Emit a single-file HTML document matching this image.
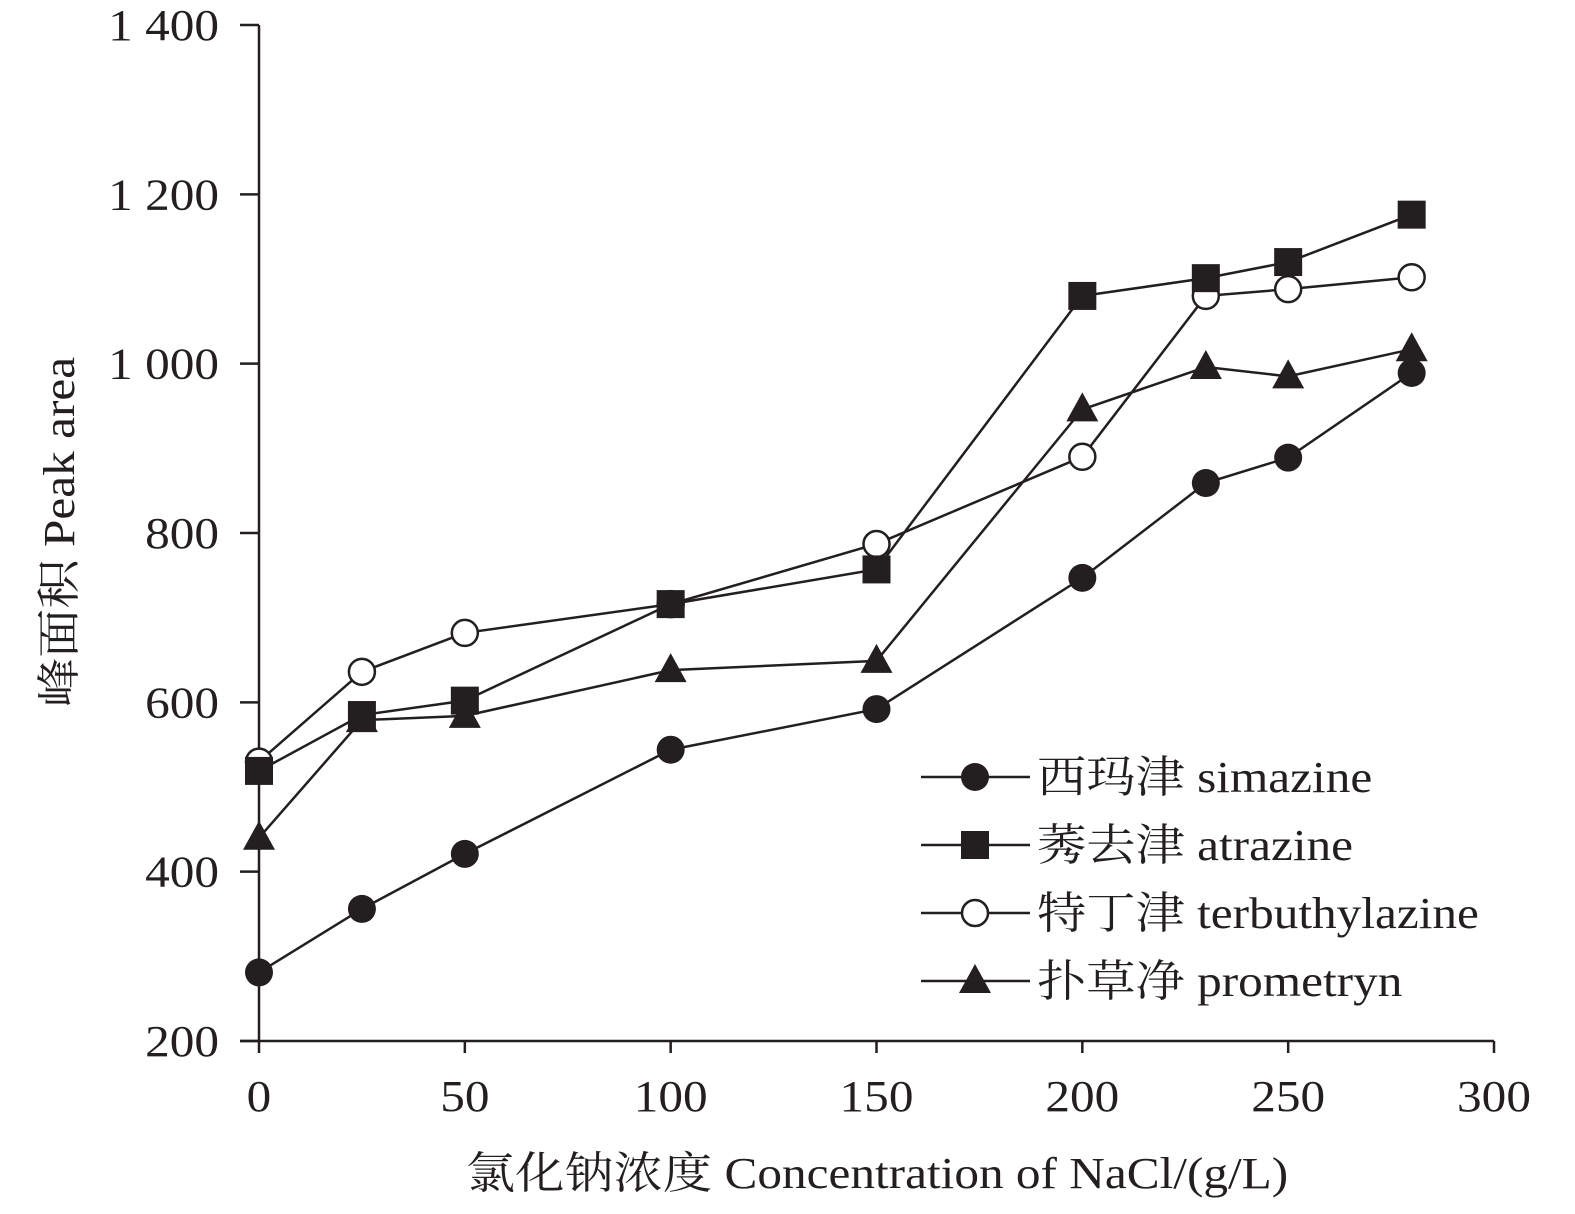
<!DOCTYPE html>
<html><head><meta charset="utf-8"><style>
html,body{margin:0;padding:0;background:#fff;}
svg text{font-family:"Liberation Serif","Noto Serif CJK SC",serif;fill:#231f20;}
</style></head><body>
<svg id="chart" width="1575" height="1209" viewBox="0 0 1575 1209" xmlns="http://www.w3.org/2000/svg">
<g id="axes"></g>
<g id="series"></g>
<g id="legend"></g>
<text transform="translate(74,532) rotate(-90) scale(1.12,1)" x="0" y="0" text-anchor="middle" font-size="44">峰面积 Peak area</text>
<text transform="translate(877,1188) scale(1.12,1)" x="0" y="0" text-anchor="middle" font-size="44">氯化钠浓度 Concentration of NaCl/(g/L)</text>
</svg>
<script>
const xValues=[0,25,50,100,150,200,230,250,280];
const simazine=[281,356,421,544,592,747,859,889,989];
const atrazine=[519,585,602,716,757,1080,1101,1120,1176];
const terbuthylazine=[530,636,682,716,787,890,1080,1088,1102];
const prometryn=[440,579,584,638,649,946,996,985,1017];
const xTicks=[0,50,100,150,200,250,300];
const yTicks=[200,400,600,800,1000,1200,1400];
const yTickLabels=["200","400","600","800","1 000","1 200","1 400"];
const seriesNames=["西玛津 simazine","莠去津 atrazine","特丁津 terbuthylazine","扑草净 prometryn"];

const NS="http://www.w3.org/2000/svg";
const X0=259,X1=1494,Y0=1041,Y1=25;
function xs(v){return X0+(v-0)/(300-0)*(X1-X0);}
function ys(v){return Y0-(v-200)/(1400-200)*(Y0-Y1);}
function mk(tag,attrs,parent){const e=document.createElementNS(NS,tag);for(const k in attrs)e.setAttribute(k,attrs[k]);parent.appendChild(e);return e;}
const axes=document.getElementById('axes');
let a=mk('line',{x1:X0,y1:Y1,x2:X0,y2:Y0,stroke:'#231f20','stroke-width':2.5},axes);


a=mk('line',{x1:X0-19,y1:Y0,x2:X1,y2:Y0,stroke:'#231f20','stroke-width':2.5},axes);


yTicks.forEach((t,i)=>{
  const y=ys(t);
  const l=mk('line',{x1:X0-19,y1:y,x2:X0,y2:y,stroke:'#231f20','stroke-width':2.5},axes);
  
  
  const tx=mk('text',{x:0,y:0,transform:`translate(219,${y+15}) scale(1.12,1)`,'text-anchor':'end','font-size':44},axes);
  tx.textContent=yTickLabels[i];
  
  
});
xTicks.forEach(t=>{
  const x=xs(t);
  const l=mk('line',{x1:x,y1:Y0,x2:x,y2:Y0+12,stroke:'#231f20','stroke-width':2.5},axes);
  
  
  const tx=mk('text',{x:0,y:0,transform:`translate(${x},1111) scale(1.12,1)`,'text-anchor':'middle','font-size':44},axes);
  tx.textContent=String(t);
  
  
});
function marker(type,x,y,parent){
  let e;
  if(type==='circle')e=mk('circle',{cx:x,cy:y,r:14,fill:'#231f20'},parent);
  else if(type==='square')e=mk('rect',{x:x-14,y:y-14,width:28,height:28,fill:'#231f20'},parent);
  else if(type==='open')e=mk('circle',{cx:x,cy:y,r:13,fill:'#fff',stroke:'#231f20','stroke-width':2.5},parent);
  else e=mk('polygon',{points:`${x},${y-17} ${x+16},${y+12} ${x-16},${y+12}`,fill:'#231f20'},parent);
  return e;
}
const sg=document.getElementById('series');
const all=[[simazine,'circle','simazine'],[terbuthylazine,'open','terbuthylazine'],[prometryn,'tri','prometryn'],[atrazine,'square','atrazine']];
all.forEach(([vals,type,name])=>{
  const g=mk('g',{},sg);
  
  
  const pl=mk('polyline',{points:vals.map((v,i)=>xs(xValues[i])+','+ys(v)).join(' '),fill:'none',stroke:'#231f20','stroke-width':2.5},g);
  
  
  vals.forEach((v,i)=>{
    const m=marker(type,xs(xValues[i]),ys(v),g);
    
    
  });
});
const lg=document.getElementById('legend');
const ltypes=['circle','square','open','tri'];
seriesNames.forEach((n,i)=>{
  const y=777+i*68;
  const g=mk('g',{},lg);
  
  
  mk('line',{x1:921,y1:y,x2:1030,y2:y,stroke:'#231f20','stroke-width':2.5},g);
  marker(ltypes[i],975,y,g);
  const t=mk('text',{x:0,y:0,transform:`translate(1037,${y+15}) scale(1.12,1)`,'font-size':44},g);
  t.textContent=n;
});
</script>
</body></html>
